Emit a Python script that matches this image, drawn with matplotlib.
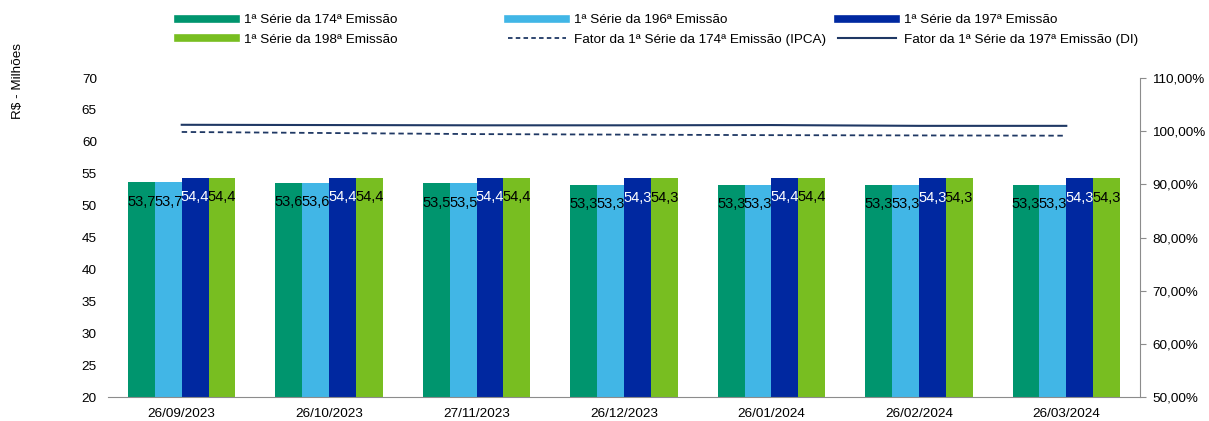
import matplotlib
matplotlib.use("Agg")
import matplotlib.pyplot as plt
from matplotlib.lines import Line2D
from matplotlib.ticker import FuncFormatter
import numpy as np

plt.rcParams["font.family"] = ["Liberation Sans", "DejaVu Sans"]

datas = ["26/09/2023", "26/10/2023", "27/11/2023", "26/12/2023",
         "26/01/2024", "26/02/2024", "26/03/2024"]
serie_174 = [53.7, 53.6, 53.5, 53.3, 53.3, 53.3, 53.3]
serie_196 = [53.7, 53.6, 53.5, 53.3, 53.3, 53.3, 53.3]
serie_197 = [54.4, 54.4, 54.4, 54.3, 54.4, 54.3, 54.3]
serie_198 = [54.4, 54.4, 54.4, 54.3, 54.4, 54.3, 54.3]
fator_174_ipca = [99.85, 99.65, 99.45, 99.35, 99.25, 99.2, 99.15]
fator_197_di = [101.2, 101.15, 101.1, 101.1, 101.15, 101.0, 101.0]

series = [
    ("1ª Série da 174ª Emissão", serie_174, "#00956E", "black"),
    ("1ª Série da 196ª Emissão", serie_196, "#41B6E6", "black"),
    ("1ª Série da 197ª Emissão", serie_197, "#0028A0", "white"),
    ("1ª Série da 198ª Emissão", serie_198, "#78BE21", "black"),
]
line_color = "#1F3864"

fig = plt.figure(figsize=(12.09, 4.21), dpi=100)
ax = fig.add_axes([108 / 1209, 1 - 397 / 421, (1140 - 108) / 1209, (397 - 78) / 421])

x = np.arange(len(datas))
w = 0.182
for i, (name, vals, col, tcol) in enumerate(series):
    pos = x + (i - 1.5) * w
    ax.bar(pos, np.array(vals) - 20, bottom=20, width=w, color=col, zorder=2)
    for p, v in zip(pos, vals):
        ax.text(p, v - 3.1, f"{v:.1f}".replace(".", ","), ha="center", va="center",
                fontsize=10.5, color=tcol, zorder=3)

ax.set_xlim(-0.5, len(datas) - 0.5)
ax.set_ylim(20, 70)
ax.set_yticks(range(20, 71, 5))
ax.set_xticks(x)
ax.set_xticklabels(datas)
ax.tick_params(axis="x", length=0, labelsize=9.7, pad=8)
ax.tick_params(axis="y", length=0, labelsize=9.7, pad=8)
for s in ["top", "left", "right"]:
    ax.spines[s].set_visible(False)
ax.spines["bottom"].set_color("#8c8c8c")

ax2 = ax.twinx()
ax2.plot(x, fator_174_ipca, color=line_color, lw=1.3, ls=(0, (3, 2)))
ax2.plot(x, fator_197_di, color=line_color, lw=1.5)
ax2.set_ylim(50, 110)
ax2.set_yticks(range(50, 111, 10))
ax2.yaxis.set_major_formatter(FuncFormatter(lambda v, _: f"{v:.2f}%".replace(".", ",")))
ax2.tick_params(axis="y", labelsize=9.7, length=4, color="#8c8c8c", pad=5)
for s in ["top", "left", "bottom"]:
    ax2.spines[s].set_visible(False)
ax2.spines["right"].set_color("#8c8c8c")

fig.text(18 / 1209, 1 - 81 / 421, "R$ - Milhões", rotation=90, ha="center", va="center",
         fontsize=9.7)

# legenda em 3 colunas
legend_cols = [
    [Line2D([], [], color=series[0][2], lw=5.5), Line2D([], [], color=series[3][2], lw=5.5)],
    [Line2D([], [], color=series[1][2], lw=5.5),
     Line2D([], [], color=line_color, lw=1.3, ls=(0, (2.5, 1.8)))],
    [Line2D([], [], color=series[2][2], lw=5.5), Line2D([], [], color=line_color, lw=1.5)],
]
legend_labels = [
    [series[0][0], series[3][0]],
    [series[1][0], "Fator da 1ª Série da 174ª Emissão (IPCA)"],
    [series[2][0], "Fator da 1ª Série da 197ª Emissão (DI)"],
]
for xs, hs, ls in zip([178, 508, 838], legend_cols, legend_labels):
    fig.legend(hs, ls, loc="upper left", bbox_to_anchor=(xs / 1209, 1 - 14 / 421),
               frameon=False, fontsize=9.7, handlelength=4.3, handletextpad=0.6,
               borderpad=0, borderaxespad=0, labelspacing=0.5)

fig.savefig("out.png", dpi=100)
